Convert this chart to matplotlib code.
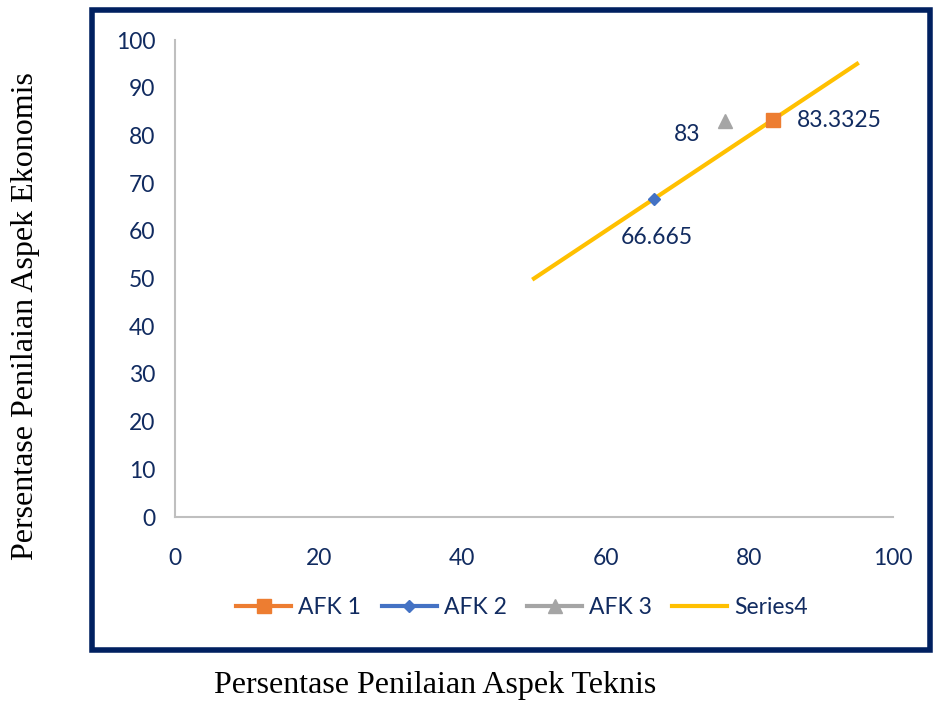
import matplotlib.pyplot as plt
from matplotlib.patches import Rectangle

# series data (x = aspek teknis, y = aspek ekonomis)
afk1_x = [83.3325]
afk1_y = [83.3325]
afk2_x = [66.665]
afk2_y = [66.665]
afk3_x = [76.6]
afk3_y = [83]
s4_x = [50, 95]
s4_y = [50, 95]

ticks = [0, 10, 20, 30, 40, 50, 60, 70, 80, 90, 100]
xticks = [0, 20, 40, 60, 80, 100]

navy = "#002060"
txt = "#112B60"
c_afk1 = "#ED7D31"
c_afk2 = "#4472C4"
c_afk3 = "#A5A5A5"
c_s4 = "#FFC000"

plt.rcParams['font.family'] = ['Lato', 'DejaVu Sans']

fig = plt.figure(figsize=(9.34, 7.02), dpi=100)
ax = fig.add_axes([0.1874, 0.2635, 0.7686, 0.6795])

ax.plot(afk1_x, afk1_y, "s", color=c_afk1, markersize=10, label="AFK 1", zorder=4)
ax.plot(afk2_x, afk2_y, "D", color=c_afk2, markersize=6, label="AFK 2", zorder=4)
ax.plot(afk3_x, afk3_y, "^", color=c_afk3, markersize=10, label="AFK 3", zorder=4)
ax.plot(s4_x, s4_y, "-", color=c_s4, linewidth=3, label="Series4", zorder=3)

# data labels
ax.annotate("83.3325", (afk1_x[0], afk1_y[0]), xytext=(17, -1), textcoords="offset points",
            ha="left", va="center", color=txt, fontsize=16.5)
ax.annotate("83", (afk3_x[0], afk3_y[0]), xytext=(-18, -10), textcoords="offset points",
            ha="right", va="center", color=txt, fontsize=16.5)
ax.annotate("66.665", (afk2_x[0], afk2_y[0]), xytext=(2, -28), textcoords="offset points",
            ha="center", va="center", color=txt, fontsize=16.5)

ax.set_xlim(0, 100)
ax.set_ylim(0, 100)
ax.set_xticks(xticks)
ax.set_yticks(ticks)
ax.tick_params(length=0, labelsize=16.5, labelcolor=txt, pad=14)
ax.tick_params(axis="x", pad=22)
for side in ["top", "right"]:
    ax.spines[side].set_visible(False)
for side in ["left", "bottom"]:
    ax.spines[side].set_color("#BFBFBF")
    ax.spines[side].set_linewidth(1.5)

# legend: marker over a line, as in the spreadsheet chart
h1, = ax.plot([], [], "-s", color=c_afk1, markersize=10, linewidth=3)
h2, = ax.plot([], [], "-D", color=c_afk2, markersize=6, linewidth=3)
h3, = ax.plot([], [], "-^", color=c_afk3, markersize=10, linewidth=3)
h4, = ax.plot([], [], "-", color=c_s4, linewidth=3)
fig.legend([h1, h2, h3, h4], ["AFK 1", "AFK 2", "AFK 3", "Series4"], loc="center",
           bbox_to_anchor=(0.559, 0.134), ncol=4, frameon=False, fontsize=16.5,
           labelcolor=txt, handlelength=2.4, handletextpad=0.3, columnspacing=0.9)

# dark border around the chart area
fig.patches.append(Rectangle((0.0985, 0.074), 0.897, 0.912, transform=fig.transFigure,
                             fill=False, edgecolor=navy, linewidth=4))

fig.text(0.466, 0.024, "Persentase Penilaian Aspek Teknis", ha="center", va="center",
         fontsize=23, family="Liberation Serif", color="black")
fig.text(0.027, 0.55, "Persentase Penilaian Aspek Ekonomis", ha="center", va="center",
         rotation=90, fontsize=23, family="Liberation Serif", color="black")

plt.savefig("out.png", dpi=100)
